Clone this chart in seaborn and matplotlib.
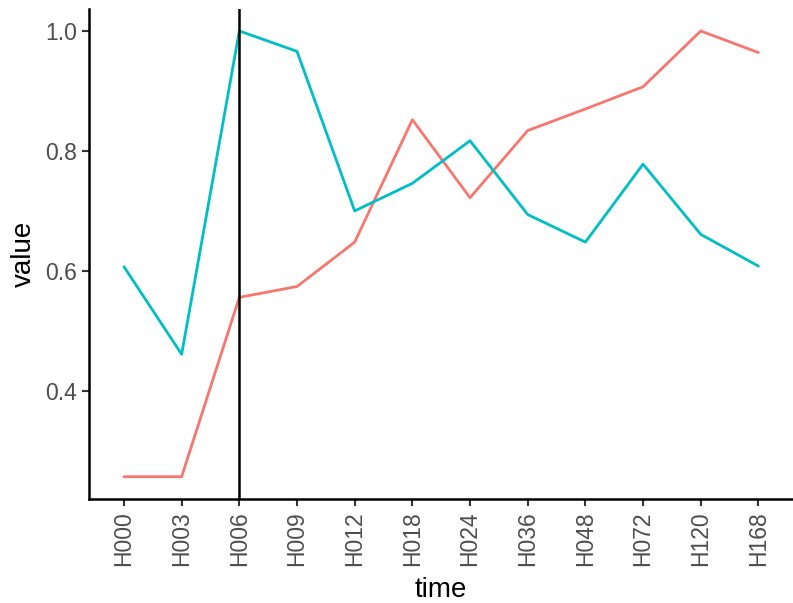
import matplotlib
matplotlib.use("Agg")
import matplotlib.pyplot as plt
import seaborn as sns
import pandas as pd

times = ["H000", "H003", "H006", "H009", "H012", "H018", "H024", "H036", "H048", "H072", "H120", "H168"]
series_a = [0.257, 0.257, 0.556, 0.574, 0.648, 0.852, 0.722, 0.834, 0.870, 0.907, 1.000, 0.964]
series_b = [0.607, 0.461, 1.000, 0.966, 0.700, 0.746, 0.817, 0.694, 0.648, 0.778, 0.661, 0.608]
groups = ["A", "B"]
colors = ["#F8766D", "#00BFC4"]
vline_at = "H006"

df = pd.DataFrame({
    "time": times * 2,
    "value": series_a + series_b,
    "group": [groups[0]] * len(times) + [groups[1]] * len(times),
})
pos = {t: i for i, t in enumerate(times)}
df["x"] = df["time"].map(pos)

sns.set_style("ticks")
plt.rcParams["font.family"] = ["Liberation Sans", "DejaVu Sans"]

fig = plt.figure(figsize=(7.93, 6.03), dpi=100)
ax = fig.add_axes([0.1127, 0.1725, 0.8873, 0.8131])

sns.lineplot(data=df, x="x", y="value", hue="group", palette=colors,
             linewidth=2, legend=False, ax=ax, sort=False)
ax.axvline(pos[vline_at], color="black", linewidth=1.8)

n = len(times)
ax.set_xlim(-0.6, n - 1 + 0.6)
vmin = min(series_a + series_b)
vmax = max(series_a + series_b)
rng = vmax - vmin
ax.set_ylim(vmin - 0.05 * rng, vmax + 0.05 * rng)
ax.set_xticks(range(n))
ax.set_xticklabels(times, rotation=90, fontsize=16.5, color="#4D4D4D")
ax.set_yticks([0.4, 0.6, 0.8, 1.0])
ax.set_yticklabels(["0.4", "0.6", "0.8", "1.0"], fontsize=16.5, color="#4D4D4D")
ax.tick_params(axis="both", length=5, width=1.5, color="#333333", pad=4)
ax.set_xlabel("time", fontsize=20, color="black", labelpad=8)
ax.set_ylabel("value", fontsize=20, color="black", labelpad=6)
for side in ["top", "right"]:
    ax.spines[side].set_visible(False)
for side in ["left", "bottom"]:
    ax.spines[side].set_linewidth(1.8)
    ax.spines[side].set_color("black")

fig.savefig("out.png", dpi=100)
